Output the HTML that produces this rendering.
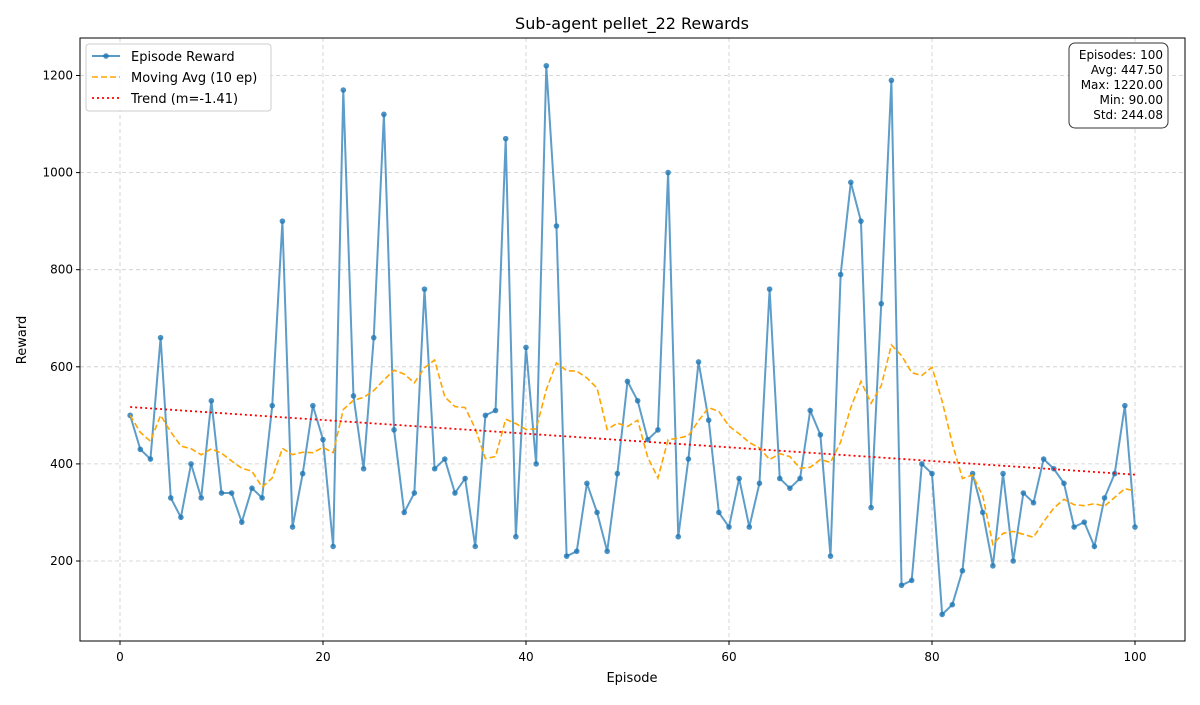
<!DOCTYPE html>
<html><head><meta charset="utf-8"><style>
body{margin:0;background:#fff;font-family:"Liberation Sans","DejaVu Sans",sans-serif}
svg text{font-family:"DejaVu Sans","Liberation Sans",sans-serif}
</style></head><body>
<svg id="chart" width="1200" height="700" xmlns="http://www.w3.org/2000/svg">
<rect width="1200" height="700" fill="#fff"/>
<text x="632" y="29" font-size="16" text-anchor="middle">Sub-agent pellet_22 Rewards</text>
<g id="grid"></g>
<g id="series"></g>
<rect x="80" y="38" width="1105" height="603" fill="none" stroke="#000" stroke-width="1"/>
<g id="ticks"></g>
<text x="632" y="682" font-size="13" text-anchor="middle">Episode</text>
<text x="26" y="340" font-size="13" text-anchor="middle" transform="rotate(-90 26 340)">Reward</text>
<g>
<rect x="86" y="44" width="185" height="67" rx="3" fill="#fff" fill-opacity="0.85" stroke="#ccc"/>
<g>
<line x1="92" y1="56" x2="120" y2="56" stroke="#1f77b4" stroke-opacity="0.75" stroke-width="2"/><circle cx="106" cy="56" r="2.8" fill="#1f77b4" fill-opacity="0.8"/>
<text x="131" y="61" font-size="13">Episode Reward</text></g>
<g>
<line x1="92" y1="77" x2="120" y2="77" stroke="orange" stroke-width="1.6" stroke-dasharray="6,3"/>
<text x="131" y="82" font-size="13">Moving Avg (10 ep)</text></g>
<g>
<line x1="92" y1="98" x2="120" y2="98" stroke="red" stroke-width="1.8" stroke-dasharray="2,3"/>
<text x="131" y="103" font-size="13">Trend (m=-1.41)</text></g>
</g>
<g>
<rect x="1069" y="43" width="99" height="85" rx="6" fill="#fff" stroke="#333" stroke-width="1"/>
<g font-size="12" text-anchor="end">
<text x="1163" y="59">Episodes: 100</text>
<text x="1163" y="74">Avg: 447.50</text>
<text x="1163" y="89">Max: 1220.00</text>
<text x="1163" y="104">Min: 90.00</text>
<text x="1163" y="119">Std: 244.08</text>
</g></g>
</svg>
<script>
const rewards=[500,430,410,660,330,290,400,330,530,340,340,280,350,330,520,900,270,380,520,450,230,1170,540,390,660,1120,470,300,340,760,390,410,340,370,230,500,510,1070,250,640,400,1220,890,210,220,360,300,220,380,570,530,450,470,1000,250,410,610,490,300,270,370,270,360,760,370,350,370,510,460,210,790,980,900,310,730,1190,150,160,400,380,90,110,180,380,300,190,380,200,340,320,410,390,360,270,280,230,330,380,520,270];
const xTicks=[0,20,40,60,80,100];
const yTicks=[200,400,600,800,1000,1200];
const NS="http://www.w3.org/2000/svg";
const xs=v=>120+v*10.15;
const ys=v=>561-(v-200)*0.4855;
function mk(tag,attrs,parent){const e=document.createElementNS(NS,tag);for(const k in attrs)e.setAttribute(k,attrs[k]);parent.appendChild(e);return e;}
const grid=document.getElementById('grid'),ticks=document.getElementById('ticks'),series=document.getElementById('series');
xTicks.forEach(t=>{
 const g=mk('line',{x1:xs(t),x2:xs(t),y1:38,y2:641,stroke:'#ccc','stroke-dasharray':'4,3','stroke-width':0.8},grid);
 
 
 mk('line',{x1:xs(t),x2:xs(t),y1:641,y2:645,stroke:'#000'},ticks);
 const l=mk('text',{x:xs(t),y:661,'font-size':12,'text-anchor':'middle'},ticks);l.textContent=t;
 
 
});
yTicks.forEach(t=>{
 const g=mk('line',{x1:80,x2:1185,y1:ys(t),y2:ys(t),stroke:'#ccc','stroke-dasharray':'4,3','stroke-width':0.8},grid);
 
 
 mk('line',{x1:76,x2:80,y1:ys(t),y2:ys(t),stroke:'#000'},ticks);
 const l=mk('text',{x:73,y:ys(t)+4,'font-size':12,'text-anchor':'end'},ticks);l.textContent=t;
 
 
});
const n=rewards.length;
// trend
let sx=0,sy=0,sxy=0,sxx=0;rewards.forEach((v,i)=>{const x=i+1;sx+=x;sy+=v;sxy+=x*v;sxx+=x*x;});
const m=(n*sxy-sx*sy)/(n*sxx-sx*sx),b=(sy-m*sx)/n;
// moving avg
const ma=rewards.map((v,i)=>{const s=rewards.slice(Math.max(0,i-9),i+1);return s.reduce((a,c)=>a+c,0)/s.length;});
const pts=rewards.map((v,i)=>xs(i+1)+','+ys(v)).join(' ');
const line=mk('polyline',{points:pts,fill:'none',stroke:'#1f77b4','stroke-opacity':0.72,'stroke-width':2},series);


rewards.forEach((v,i)=>{const c=mk('circle',{cx:xs(i+1),cy:ys(v),r:2.8,fill:'#1f77b4','fill-opacity':0.8},series);
 
 });
const mal=mk('polyline',{points:ma.map((v,i)=>xs(i+1)+','+ys(v)).join(' '),fill:'none',stroke:'orange','stroke-width':1.6,'stroke-dasharray':'6,3'},series);


const tr=mk('line',{x1:xs(1),y1:ys(m*1+b),x2:xs(n),y2:ys(m*n+b),stroke:'red','stroke-width':1.8,'stroke-dasharray':'2,3'},series);


</script>
</body></html>
